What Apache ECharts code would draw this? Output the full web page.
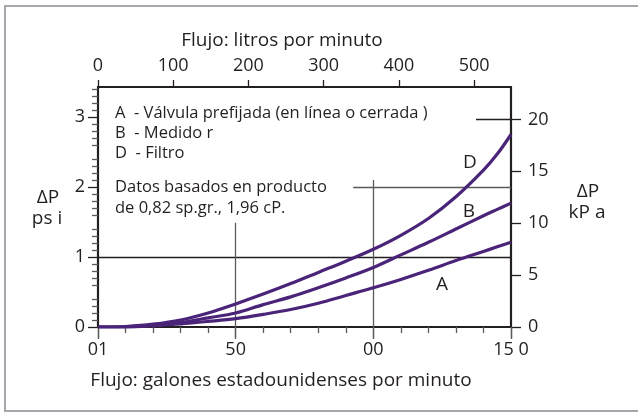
<!DOCTYPE html>
<html>
<head>
<meta charset="utf-8">
<script src="https://cdn.jsdelivr.net/npm/echarts@6/dist/echarts.min.js"></script>
<style>
html,body{margin:0;padding:0;background:#fff;}
#c{width:638px;height:412px;}
</style>
</head>
<body>
<div id="c"></div>
<script>
// ---- data ----
const gpm = [0, 5, 10, 20, 30, 40, 50, 60, 70, 80, 90, 100, 110, 120, 130, 140, 145, 150];
const curveD = [0, 0, 0.005, 0.04, 0.10, 0.20, 0.33, 0.47, 0.62, 0.78, 0.94, 1.11, 1.31, 1.55, 1.86, 2.24, 2.47, 2.75];
const curveB = [0, 0, 0, 0.03, 0.065, 0.13, 0.20, 0.32, 0.43, 0.56, 0.70, 0.85, 1.03, 1.21, 1.40, 1.59, 1.68, 1.77];
const curveA = [0, 0, 0, 0.02, 0.045, 0.08, 0.12, 0.18, 0.25, 0.34, 0.45, 0.56, 0.68, 0.81, 0.95, 1.08, 1.145, 1.21];
const bottomTicks = [0, 50, 100, 150];
const bottomTickLabels = ['01', '50', '00', '15 0'];
const psiTicks = [0, 1, 2, 3];
const kpaTicks = [0, 5, 10, 15, 20];
const litreMax = 549;
const legendLines = [
  'A  - Válvula prefijada (en línea o cerrada )',
  'B  - Medido r',
  'D  - Filtro'
];
const noteLines = ['Datos basados en producto', 'de 0,82 sp.gr., 1,96 cP.'];

const FONT = 'Open Sans';
const TXT = '#231f20';
const PURPLE = '#4a2478';
const AX = '#231f20';
const GRID = '#5a5a5a';

const chart = echarts.init(document.getElementById('c'), null, {renderer: 'canvas'});

function pairs(ys) { return gpm.map((g, i) => [g, ys[i]]); }

function curve(name, ys) {
  return {
    name, type: 'line', xAxisIndex: 0, yAxisIndex: 0,
    data: pairs(ys), smooth: 0.35, symbol: 'none',
    lineStyle: {color: PURPLE, width: 3.2}, z: 5, silent: true
  };
}

function seg(x1, y1, x2, y2, color, width) {
  return [{coord: [x1, y1], lineStyle: {color, width, type: 'solid'}}, {coord: [x2, y2]}];
}

const labelStyle = {fontFamily: FONT, fontSize: 18, color: TXT};
function txt(t, x, y, size, align) {
  return {type: 'text', x, y, style: {text: t, font: size + 'px "' + FONT + '"', fill: TXT, align: align || 'center', verticalAlign: 'middle'}};
}

const option = {
  animation: false,
  backgroundColor: '#fff',
  grid: {left: 98, top: 87, width: 413, height: 240, containLabel: false},
  xAxis: [
    {
      type: 'value', position: 'bottom', min: 0, max: 150, interval: 50,
      axisLine: {show: true, onZero: false, lineStyle: {color: AX, width: 2.2}},
      axisTick: {show: true, length: 11, lineStyle: {color: GRID, width: 1.3}},
      minorTick: {show: true, splitNumber: 5, length: 6, lineStyle: {color: GRID, width: 1.3}},
      splitLine: {show: false},
      axisLabel: Object.assign({margin: 14, formatter: v => {
        const i = bottomTicks.indexOf(v); return i >= 0 ? bottomTickLabels[i] : '';
      }}, labelStyle)
    },
    {
      type: 'value', position: 'top', min: 0, max: litreMax, interval: 100,
      axisLine: {show: true, onZero: false, lineStyle: {color: AX, width: 2.2}},
      axisTick: {show: true, length: 7, lineStyle: {color: AX, width: 1.3}},
      splitLine: {show: false},
      axisLabel: Object.assign({margin: 12, showMaxLabel: false}, labelStyle)
    },
    {
      type: 'value', position: 'top', min: 0, max: 150, interval: 50,
      axisLine: {show: false},
      axisTick: {show: true, inside: true, length: 12, lineStyle: {color: GRID, width: 1.3}},
      splitLine: {show: false},
      axisLabel: {show: false}
    }
  ],
  yAxis: [
    {
      type: 'value', position: 'left', min: 0, max: 3.4286,
      axisLine: {show: true, onZero: false, lineStyle: {color: AX, width: 2.2}},
      axisTick: {show: true, length: 10, customValues: psiTicks, lineStyle: {color: AX, width: 1.3}},
      minorTick: {show: true, splitNumber: 5, length: 6, lineStyle: {color: GRID, width: 1.3}},
      splitLine: {show: false},
      axisLabel: Object.assign({margin: 13, customValues: psiTicks}, labelStyle)
    },
    {
      type: 'value', position: 'right', min: 0, max: 23.13,
      axisLine: {show: true, onZero: false, lineStyle: {color: AX, width: 2.2}},
      axisTick: {show: true, length: 10, customValues: kpaTicks, lineStyle: {color: AX, width: 1.3}},
      splitLine: {show: false},
      axisLabel: Object.assign({margin: 17, customValues: kpaTicks}, labelStyle)
    }
  ],
  series: [
    {
      type: 'line', xAxisIndex: 0, yAxisIndex: 0, data: [], silent: true,
      markLine: {
        symbol: ['none', 'none'], silent: true, label: {show: false}, animation: false,
        data: [
          seg(0, 1, 150, 1, AX, 1.3),
          seg(92.7, 2, 150, 2, GRID, 1.3),
          seg(50, 0, 50, 1.49, GRID, 1.3),
          seg(100, 0, 100, 2.1, GRID, 1.3)
        ]
      }
    },
    {
      type: 'line', xAxisIndex: 0, yAxisIndex: 1, data: [], silent: true,
      markLine: {
        symbol: ['none', 'none'], silent: true, label: {show: false}, animation: false,
        data: [seg(137.3, 20, 150, 20, AX, 1.3)]
      }
    },
    curve('A', curveA),
    curve('B', curveB),
    curve('D', curveD)
  ],
  graphic: [
    {type: 'rect', shape: {x: 5, y: 6, width: 700, height: 405}, style: {fill: 'none', stroke: '#a7a7ad', lineWidth: 2}, silent: true},
    txt('Flujo: litros por minuto', 282, 41, 19),
    txt('Flujo: galones estadounidenses por minuto', 281, 381, 19),
    txt('ΔP', 48, 198, 19),
    txt('ps i', 47, 219, 19),
    txt('ΔP', 588, 192, 19),
    txt('kP a', 587, 213, 19),
    ...legendLines.map((t, i) => txt(t, 115, 113 + i * 20, 16.5, 'left')),
    ...noteLines.map((t, i) => txt(t, 115, 187 + i * 21, 16.5, 'left')),
    txt('D', 470, 163, 19),
    txt('B', 469, 212, 19),
    txt('A', 442, 285, 19)
  ]
};
chart.setOption(option);
</script>
</body>
</html>
